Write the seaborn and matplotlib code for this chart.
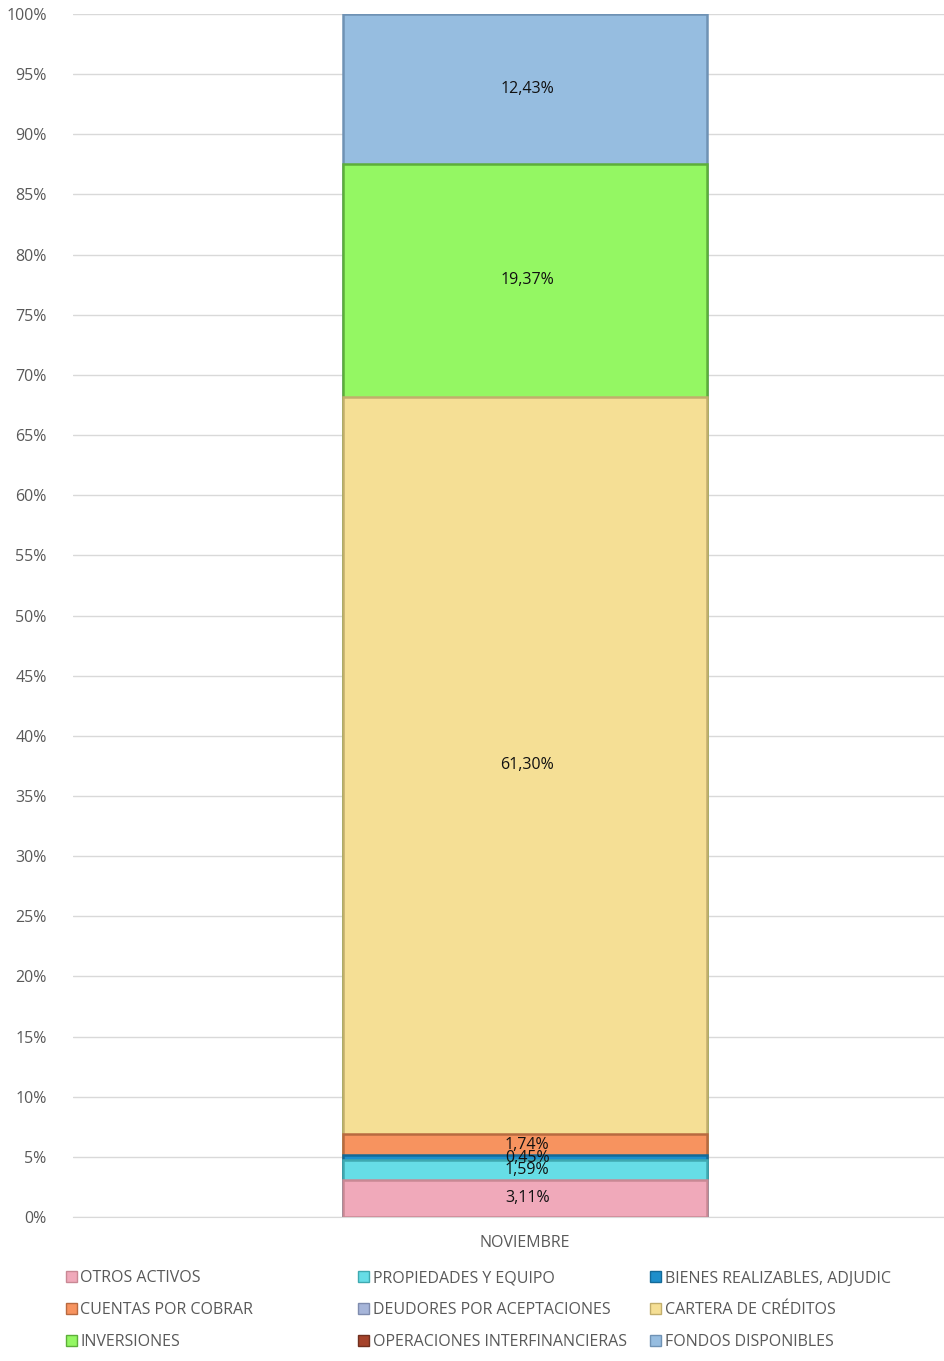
import numpy as np
import matplotlib
matplotlib.use("Agg")
import matplotlib.pyplot as plt
import seaborn as sns
from matplotlib.patches import Patch

# ================================================
# Datos
# ================================================
mes = "NOVIEMBRE"
cuentas = ["OTROS ACTIVOS", "PROPIEDADES Y EQUIPO", "BIENES REALIZABLES, ADJUDIC",
           "CUENTAS POR COBRAR", "DEUDORES POR ACEPTACIONES", "CARTERA DE CRÉDITOS",
           "INVERSIONES", "OPERACIONES INTERFINANCIERAS", "FONDOS DISPONIBLES"]
porcentajes = [3.11, 1.59, 0.45, 1.74, 0.00, 61.30, 19.37, 0.00, 12.43]
colores = ["#F0A9BA", "#66DDE6", "#1E8FCB", "#F7935F", "#A6B5D9",
           "#F5DF95", "#94F763", "#A5432B", "#96BDE0"]
bordes = ["#C98894", "#3FA9B0", "#146A98", "#B86A40", "#7F8CAE",
          "#C2AE6C", "#5DAE3A", "#70301F", "#6F92B4"]

# ================================================
# Estilo
# ================================================
sns.set_style("white")
plt.rcParams['font.family'] = ['Open Sans', 'DejaVu Sans']

fig = plt.figure(figsize=(9.45, 13.61), dpi=100)
ax = fig.add_axes([0.0772, 0.1058, 0.9228, 0.8839])

acumulado = np.cumsum(porcentajes)
ancho = 0.4174

# barras apiladas: de arriba hacia abajo, cada una cubre la anterior
for i in range(len(cuentas) - 1, -1, -1):
    if porcentajes[i] <= 0:
        continue
    sns.barplot(x=[mes], y=[acumulado[i]], color=colores[i], width=ancho,
                edgecolor=bordes[i], linewidth=1.8, saturation=1, ax=ax, zorder=3)

# etiquetas
inicio = acumulado - np.array(porcentajes)
for i, v in enumerate(porcentajes):
    if v <= 0:
        continue
    ax.text(0.003, inicio[i] + v / 2, f"{v:.2f}%".replace(".", ","),
            ha='center', va='center', fontsize=11.5, color='#111111', zorder=5)

ax.set_xlim(-0.518, 0.482)
ax.set_ylim(0, 100)
ax.set_yticks(np.arange(0, 101, 5))
ax.set_yticklabels([f"{t}%" for t in range(0, 101, 5)])
ax.yaxis.grid(True, color='#D9D9D9', linewidth=1)
ax.set_axisbelow(True)
for s in ['top', 'right', 'left']:
    ax.spines[s].set_visible(False)
ax.spines['bottom'].set_color('#D9D9D9')
ax.tick_params(axis='y', length=0, pad=19, labelsize=11.5, labelcolor='#595959')
ax.tick_params(axis='x', length=0, pad=13, labelsize=11.5, labelcolor='#595959')
ax.set_xlabel("")
ax.set_ylabel("")

# leyenda: tres columnas de igual separación
manijas = [Patch(facecolor=colores[i], edgecolor=bordes[i], label=cuentas[i]) for i in range(9)]
columnas = [[0, 3, 6], [1, 4, 7], [2, 5, 8]]
x_col = [0.0695, 0.379, 0.688]
for xc, idx in zip(x_col, columnas):
    leg = fig.legend([manijas[i] for i in idx], [cuentas[i] for i in idx],
                     loc='upper left', bbox_to_anchor=(xc, 0.0665), ncol=1, frameon=False,
                     fontsize=11.5, labelcolor='#595959', handlelength=0.7, handleheight=0.7,
                     handletextpad=0.2, labelspacing=1.0, borderaxespad=0, borderpad=0)

fig.savefig("out.png", dpi=100)
